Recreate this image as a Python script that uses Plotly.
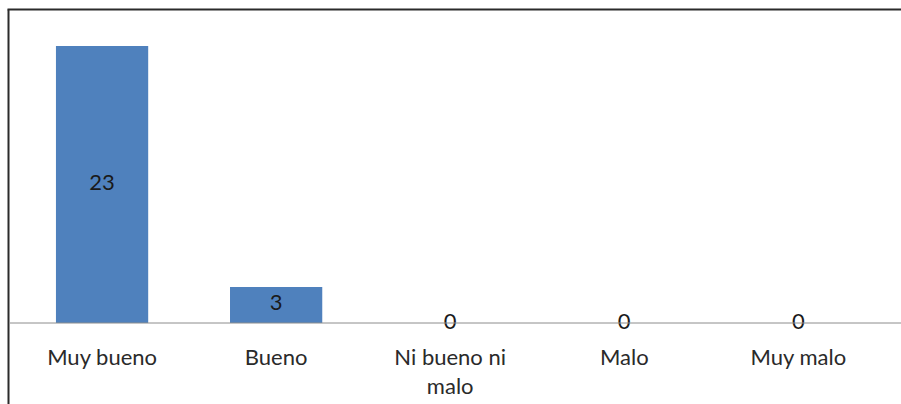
import plotly.graph_objects as go

categories = ["Muy bueno", "Bueno", "Ni bueno ni<br>malo", "Malo", "Muy malo"]
values = [23, 3, 0, 0, 0]
value_labels = ["23", "3", "0", "0", "0"]

bar_color = "#4F81BD"
font_family = "Lato, 'Open Sans', sans-serif"

fig = go.Figure()
fig.add_trace(go.Bar(x=categories, y=values, marker=dict(color=bar_color, line=dict(width=0)),
                     hoverinfo="skip", showlegend=False))
fig.add_trace(go.Scatter(x=categories, y=[v / 2 for v in values], mode="text",
                         text=value_labels, textposition="middle center",
                         textfont=dict(family=font_family, size=22, color="#1a1a1a"),
                         hoverinfo="skip", showlegend=False, cliponaxis=False))

W, H = 901, 404
left, top, bottom = 10, 10, 81
fig.update_layout(
    width=W, height=H,
    margin=dict(l=left, r=0, t=top, b=bottom, pad=0),
    paper_bgcolor="white", plot_bgcolor="white",
    bargap=0.47,
    font=dict(family=font_family, size=22, color="#2a2a2a"),
    xaxis=dict(type="category", range=[-0.529, 4.59], showline=False,
               showgrid=False, ticks="", tickfont=dict(size=22, color="#2a2a2a"),
               ticklabelstandoff=19, zeroline=False, automargin=False),
    yaxis=dict(range=[0, 26], showgrid=False, showticklabels=False, zeroline=False,
               showline=False, ticks=""),
    shapes=[
        dict(type="line", xref="paper", yref="paper", x0=0, x1=1.2, y0=0, y1=0,
             line=dict(color="#8c8c8c", width=1), layer="above"),
        dict(type="line", xref="paper", yref="paper", x0=-1.5 / 891, x1=-1.5 / 891,
             y0=-0.3, y1=1 + 0.5 / 313, line=dict(color="#2b2b2b", width=2)),
        dict(type="line", xref="paper", yref="paper", x0=-2.5 / 891, x1=1.2,
             y0=1 + 0.5 / 313, y1=1 + 0.5 / 313, line=dict(color="#2b2b2b", width=2)),
    ],
)

fig.write_html("out.html")
